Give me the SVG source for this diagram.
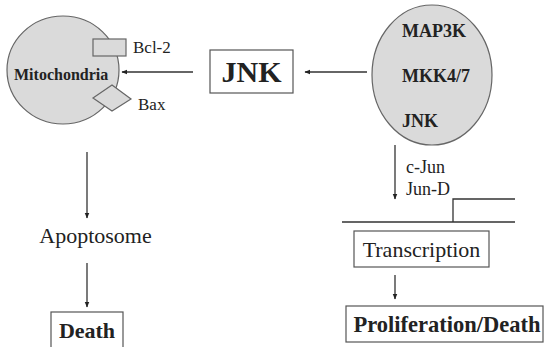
<svg xmlns="http://www.w3.org/2000/svg" width="544" height="347" viewBox="0 0 544 347">
<style>
.t{font-family:"Liberation Serif","Times New Roman",serif;fill:#222}
.b{font-weight:bold}
.c{fill:#dadada;stroke:#666;stroke-width:1.2}
.box{fill:#fff;stroke:#555;stroke-width:1.2}
.ln{stroke:#333;stroke-width:1.3;fill:none}
</style>
<defs>
<marker id="ah" viewBox="0 0 10 10" refX="9" refY="5" markerWidth="6" markerHeight="6" orient="auto" markerUnits="userSpaceOnUse">
<path d="M0,1 L10,5 L0,9 z" fill="#222"/>
</marker>
</defs>
<rect width="544" height="347" fill="#fff"/>
<g id="mitochondria">
<ellipse class="c" cx="63" cy="70" rx="56" ry="54"/>
<text class="t b" x="14" y="80" font-size="16">Mitochondria</text>
</g>
<g id="bcl2">
<rect class="c" x="93" y="39" width="33" height="17"/>
<text class="t" x="133" y="53" font-size="17">Bcl-2</text>
</g>
<g id="bax">
<polygon class="c" points="93,98 112,85 131,99 112,111"/>
<text class="t" x="138" y="110" font-size="17">Bax</text>
</g>
<g id="jnk">
<rect class="box" x="210" y="50" width="83" height="43"/>
<text class="t b" x="251.5" y="82" font-size="30" text-anchor="middle">JNK</text>
</g>
<g id="kinases">
<ellipse class="c" cx="432" cy="75" rx="60" ry="70"/>
<text class="t b" x="402" y="37" font-size="18">MAP3K</text>
<text class="t b" x="402" y="82" font-size="18">MKK4/7</text>
<text class="t b" x="402" y="127" font-size="18">JNK</text>
</g>
<g id="cjun">
<text class="t" x="406" y="173" font-size="18">c-Jun</text>
<text class="t" x="406" y="195" font-size="18">Jun-D</text>
</g>
<g id="gene">
<path class="ln" d="M342,222 H515 M453,222 V199 H515" stroke="#555"/>
</g>
<g id="transcription">
<rect class="box" x="354" y="231" width="135" height="36"/>
<text class="t" x="421.5" y="257" font-size="22" text-anchor="middle">Transcription</text>
</g>
<g id="proliferation">
<rect class="box" x="346" y="306" width="197" height="36"/>
<text class="t b" x="447" y="332" font-size="22.5" text-anchor="middle">Proliferation/Death</text>
</g>
<g id="apoptosome">
<text class="t" x="95.5" y="243" font-size="22" text-anchor="middle">Apoptosome</text>
</g>
<g id="death">
<rect class="box" x="51" y="312" width="72" height="40"/>
<text class="t b" x="87" y="338" font-size="22" text-anchor="middle">Death</text>
</g>
<g id="connectors">
<line class="ln" x1="193" y1="72" x2="122" y2="72" marker-end="url(#ah)"/>
<line class="ln" x1="367" y1="72" x2="305" y2="72" marker-end="url(#ah)"/>
<line class="ln" x1="395" y1="145" x2="395" y2="199" marker-end="url(#ah)"/>
<line class="ln" x1="395" y1="275" x2="395" y2="299" marker-end="url(#ah)"/>
<line class="ln" x1="87" y1="152" x2="87" y2="218" marker-end="url(#ah)"/>
<line class="ln" x1="87" y1="263" x2="87" y2="307" marker-end="url(#ah)"/>
</g>
</svg>
